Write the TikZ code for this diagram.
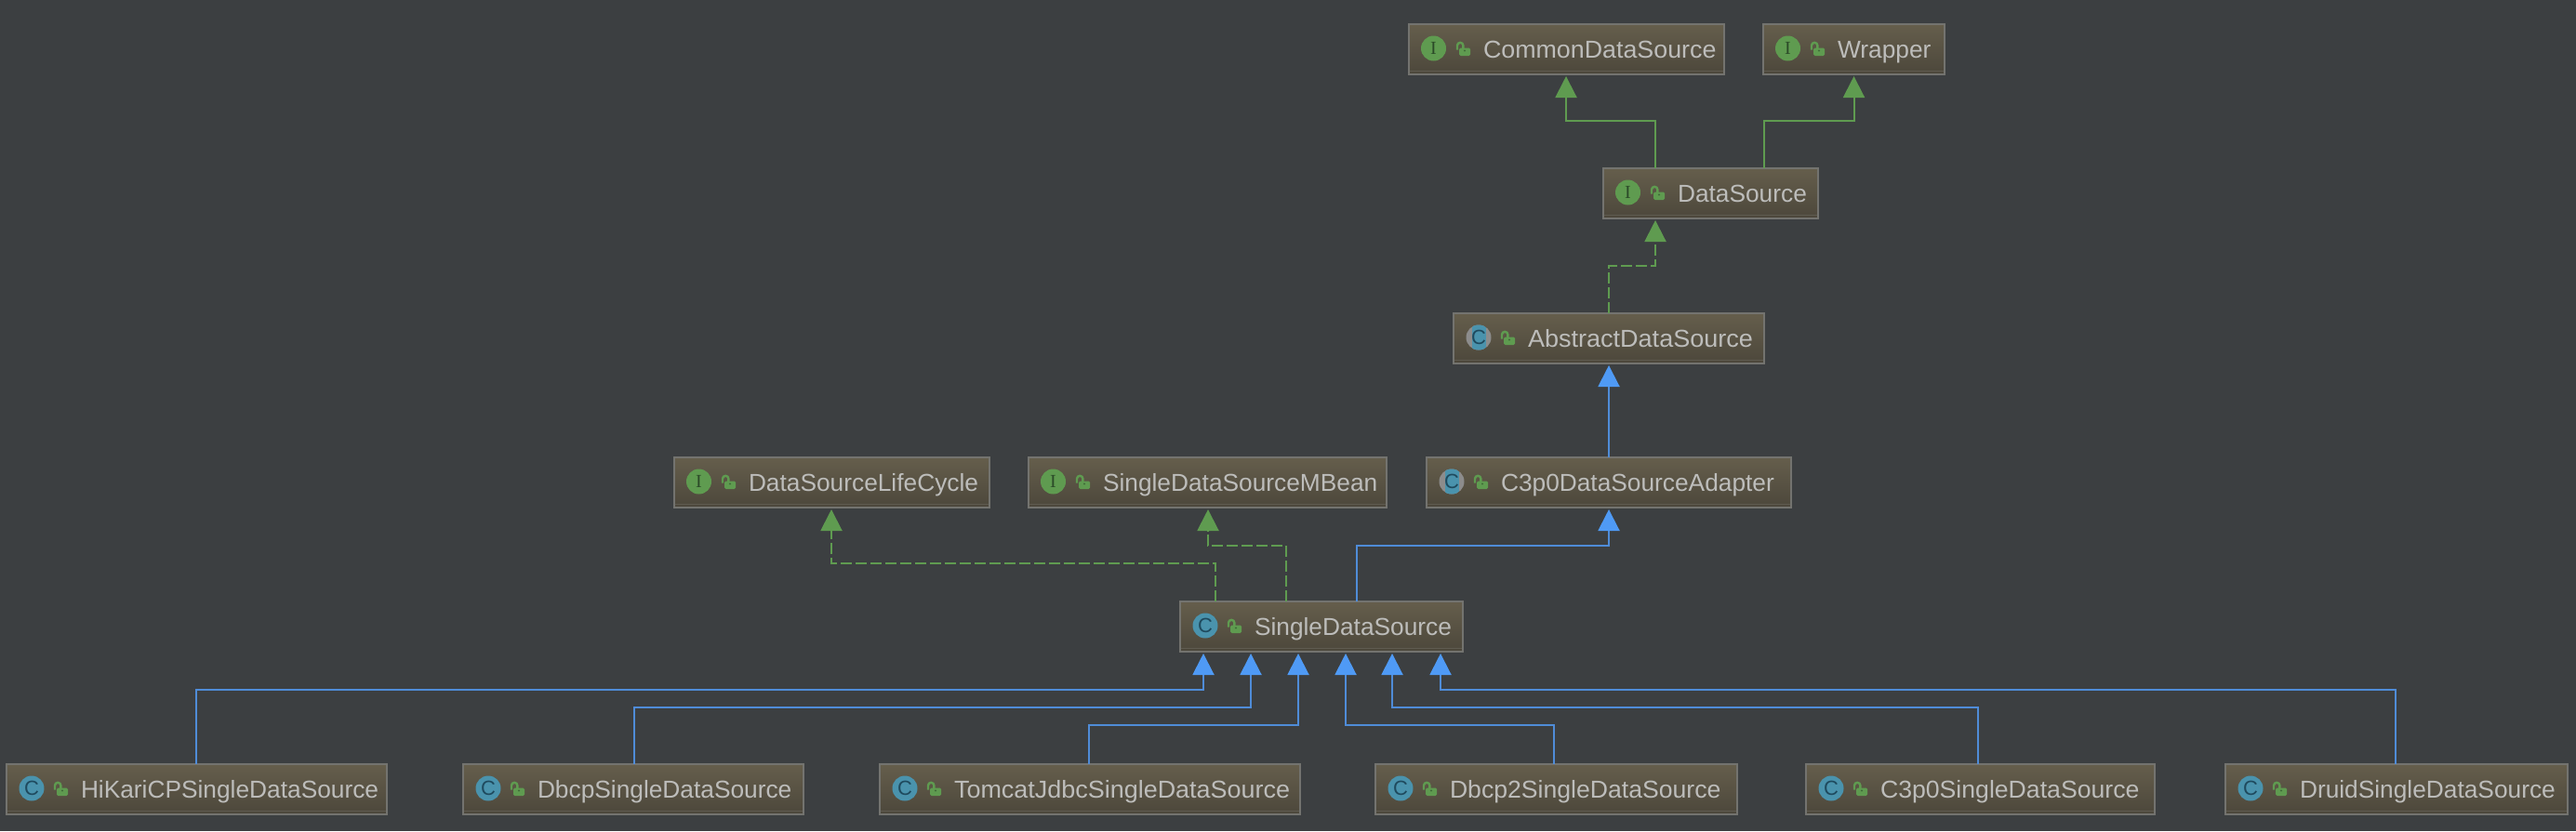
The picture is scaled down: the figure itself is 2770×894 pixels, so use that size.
\documentclass[tikz,border=0pt]{standalone}
\usepackage{fontspec}
\usepackage{graphicx}
\setmainfont{Liberation Sans}
\newfontfamily\iconserif{Liberation Serif}
\usetikzlibrary{arrows.meta}
\definecolor{bgc}{HTML}{3C3F41}
\definecolor{boxtop}{HTML}{655E4C}
\definecolor{boxbot}{HTML}{4C473B}
\definecolor{boxline}{HTML}{73736F}
\definecolor{footline}{HTML}{5F5B50}
\definecolor{txtc}{HTML}{BDBDBB}
\definecolor{greenc}{HTML}{5F9B50}
\definecolor{holec}{HTML}{3F6B38}
\definecolor{bluec}{HTML}{4F9AF5}
\definecolor{linkblue}{HTML}{4F8CD8}
\definecolor{classc}{HTML}{4A93AD}
\definecolor{classd}{HTML}{1F4A5E}
\definecolor{ifaced}{HTML}{2B4A28}
\definecolor{absgray}{HTML}{8C8C8C}
\tikzset{
  umlbox/.style={draw=boxline,line width=2pt,top color=boxtop,bottom color=boxbot,
    minimum height=54pt,inner xsep=0pt,inner ysep=0pt,outer sep=0pt,anchor=north west,
    text=txtc,font=\fontsize{26.3pt}{30pt}\selectfont,text height=18pt,text depth=0pt},
  iconc/.style={circle,fill=classc,draw=none,minimum size=27pt,inner sep=0pt,text=classd,
    font=\fontsize{22pt}{23pt}\selectfont},
  iconi/.style={circle,fill=greenc,draw=none,minimum size=27pt,inner sep=0pt,text=ifaced,
    font=\fontsize{20pt}{21pt}\selectfont\iconserif},
  impl/.style={draw=greenc,line width=2pt,-{Triangle[length=23pt,width=23pt,fill=greenc]},shorten >=2pt},
  impld/.style={impl,dash pattern=on 12pt off 4pt},
  inh/.style={draw=linkblue,line width=2pt,-{Triangle[length=23pt,width=23pt,color=bluec]},shorten >=2pt},
  lockbody/.style={fill=greenc,draw=none,rounded corners=1.5pt},
  lockarc/.style={draw=greenc,line width=2.4pt},
}
% #1 name, #2 x, #3 y, #4 outer width, #5 text
\newcommand{\umlnode}[5]{%
  \node[umlbox,minimum width=#4pt-2pt] (#1) at (#2+1,#3+1) {\makebox[\dimexpr#4pt-2pt\relax][l]{\hspace*{80pt}#5}};
  \draw[footline,line width=1pt] ([xshift=1pt,yshift=4pt]#1.south west) -- ([xshift=-1pt,yshift=4pt]#1.south east);
  \fill[lockbody] ([xshift=54pt,yshift=-25.5pt]#1.north west) rectangle ([xshift=66pt,yshift=-34pt]#1.north west);
  \draw[lockarc] ([xshift=52pt,yshift=-27.5pt]#1.north west) -- ([xshift=52pt,yshift=-23pt]#1.north west)
     arc[start angle=180,end angle=0,x radius=3.2pt,y radius=3.2pt] -- ([xshift=58.4pt,yshift=-26pt]#1.north west);
  \fill[holec] ([xshift=60pt,yshift=-28.5pt]#1.north west) circle[radius=1.1pt];
}
\newcommand{\iconC}[1]{\node[iconc] (#1-icon) at ([xshift=27pt,yshift=-26pt]#1.north west) {C};}
\newcommand{\iconI}[1]{\node[iconi] (#1-icon) at ([xshift=26.5pt,yshift=-26pt]#1.north west) {I};}
\newcommand{\iconA}[1]{%
  \fill[absgray] ([xshift=27pt,yshift=-26pt]#1.north west) circle[radius=13.5pt];
  \begin{scope}
    \clip ([xshift=27pt,yshift=-26pt]#1.north west) circle[radius=13.5pt];
    \fill[classc] ([xshift=19.5pt,yshift=-9pt]#1.north west) rectangle ([xshift=34.5pt,yshift=-43pt]#1.north west);
  \end{scope}
  \node[iconc,fill=none] (#1-icon) at ([xshift=27pt,yshift=-26pt]#1.north west) {C};}
\begin{document}
\begin{tikzpicture}[x=1pt,y=-1pt]
\useasboundingbox[fill=bgc] (0,0) rectangle (2770,894);
\umlnode{cds}{1514}{25}{341}{\scalebox{1.02}[1]{CommonDataSource}}\iconI{cds}
\umlnode{wrap}{1895}{25}{197}{Wrapper}\iconI{wrap}
\umlnode{ds}{1723}{180}{233}{DataSource}\iconI{ds}
\umlnode{ads}{1562}{336}{336}{\scalebox{1.028}[1]{AbstractDataSource}}\iconA{ads}
\umlnode{dslc}{724}{491}{341}{DataSourceLifeCycle}\iconI{dslc}
\umlnode{mbean}{1105}{491}{387}{SingleDataSourceMBean}\iconI{mbean}
\umlnode{c3a}{1533}{491}{394}{C3p0DataSourceAdapter}\iconA{c3a}
\umlnode{sds}{1268}{646}{306}{SingleDataSource}\iconC{sds}
\umlnode{hik}{6}{821}{411}{HiKariCPSingleDataSource}\iconC{hik}
\umlnode{dbcp}{497}{821}{368}{DbcpSingleDataSource}\iconC{dbcp}
\umlnode{tom}{945}{821}{454}{\scalebox{1.025}[1]{TomcatJdbcSingleDataSource}}\iconC{tom}
\umlnode{dbcpb}{1478}{821}{391}{\scalebox{1.012}[1]{Dbcp2SingleDataSource}}\iconC{dbcpb}
\umlnode{c3s}{1941}{821}{377}{\scalebox{1.013}[1]{C3p0SingleDataSource}}\iconC{c3s}
\umlnode{dru}{2392}{821}{370}{DruidSingleDataSource}\iconC{dru}
% interface inheritance
\draw[impl] (1780,0 |- ds.north) |- (1684,130) -- (1684,0 |- cds.south);
\draw[impl] (1897,0 |- ds.north) |- (1993.5,130) -- (1993.5,0 |- wrap.south);
% implementations
\draw[impld] (1730,0 |- ads.north) |- (1780,286) -- (1780,0 |- ds.south);
\draw[impld] (1307,0 |- sds.north) |- (894,606) -- (894,0 |- dslc.south);
\draw[impld] (1383,0 |- sds.north) |- (1299,587) -- (1299,0 |- mbean.south);
% class inheritance
\draw[inh] (1730,0 |- c3a.north) -- (1730,0 |- ads.south);
\draw[inh] (1459,0 |- sds.north) |- (1730,587) -- (1730,0 |- c3a.south);
\draw[inh] (211,0 |- hik.north) |- (1294,742) -- (1294,0 |- sds.south);
\draw[inh] (682,0 |- dbcp.north) |- (1345,761) -- (1345,0 |- sds.south);
\draw[inh] (1171,0 |- tom.north) |- (1396,780) -- (1396,0 |- sds.south);
\draw[inh] (1671,0 |- dbcpb.north) |- (1447,780) -- (1447,0 |- sds.south);
\draw[inh] (2127,0 |- c3s.north) |- (1497,761) -- (1497,0 |- sds.south);
\draw[inh] (2576,0 |- dru.north) |- (1549,742) -- (1549,0 |- sds.south);
\end{tikzpicture}
\end{document}
